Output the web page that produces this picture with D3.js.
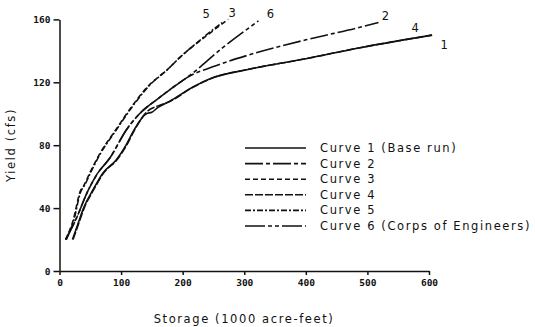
<!DOCTYPE html>
<html>
<head>
<meta charset="utf-8">
<script src="https://cdn.jsdelivr.net/npm/d3@7"></script>
<style>
  html, body { margin: 0; padding: 0; background: #fff; }
  svg text { fill: #111; }
  .tick text { font-family: "DejaVu Sans Mono", monospace; font-weight: bold; font-size: 9.5px; }
  .lbl { font-family: "DejaVu Sans", sans-serif; font-size: 11.5px; letter-spacing: 1.6px; }
  .num { font-family: "DejaVu Sans", sans-serif; font-size: 11.5px; }
</style>
</head>
<body>
<svg id="chart" width="535" height="327"></svg>
<script>
// Storage (1000 acre-feet) vs. yield (cfs) for each operating-rule curve
const curve1 = [[21,20],[30,30],[39,40],[55,52],[70,62],[93,71],[108,80],[120,89],[141,100],[150,101],[160,104],[179,108],[217,117],[250,123],[304,128],[400,135],[488,142],[605,150]];
const curve2 = [[10,20],[28,34],[45,50],[60,61],[82,72],[109,90],[130,100],[158,109],[185,117],[207,123],[250,130],[304,137],[400,147],[488,155],[518,158]];
const curve3 = [[10,20],[22,32],[34,51],[39,54],[50,63],[66,75],[90,89],[120,106],[145,118],[175,128],[196,136],[240,150],[274,160]];
const curve4 = [[22,20],[31,30],[40,40],[56,52],[71,62],[94,71],[109,80],[121,89],[141,101],[160,105],[180,108],[217,117],[250,123],[304,128],[400,135],[488,142],[605,150]];
const curve5 = [[11,20],[23,32],[35,51],[40,54],[51,63],[67,75],[91,89],[121,106],[146,118],[175,128],[196,136],[235,149],[264,158]];
const curve6 = [[10,20],[28,34],[45,50],[60,61],[82,72],[109,90],[130,100],[158,109],[185,117],[207,123],[265,142],[323,159]];

const seriesNames = ["Curve 1 (Base run)", "Curve 2", "Curve 3", "Curve 4", "Curve 5", "Curve 6 (Corps of Engineers)"];
const endLabels = ["1", "2", "3", "4", "5", "6"];
const xTicks = [0, 100, 200, 300, 400, 500, 600];
const yTicks = [0, 40, 80, 120, 160];

const series = [curve1, curve2, curve3, curve4, curve5, curve6];
const dashes = [null, "18,3,4,3", "5,3", "8,2", "6,2,2,2", "20,3,4,3,4,3"];
// offsets of the curve-number labels from each curve's end point
const labelOffsets = [[12,10],[7,-7],[4,-6],[-17,-7],[-16,-9],[12,-7]];

const svg = d3.select("#chart");
svg.append("rect").attr("width", 535).attr("height", 327).attr("fill", "#fff");

const x = d3.scaleLinear().domain([0, 600]).range([59.5, 429]);
const y = d3.scaleLinear().domain([0, 160]).range([271, 19.4]);

const xAxis = svg.append("g").attr("transform", `translate(0,${y(0)})`)
  .call(d3.axisBottom(x).tickValues(xTicks).tickSizeInner(4).tickSizeOuter(0).tickPadding(4));
const yAxis = svg.append("g").attr("transform", `translate(${x(0)},0)`)
  .call(d3.axisLeft(y).tickValues(yTicks).tickSizeInner(6).tickSizeOuter(0).tickPadding(3));
[xAxis, yAxis].forEach(g => {
  g.selectAll("path, line").attr("stroke", "#111").attr("stroke-width", 1.5);
});

const line = d3.line().x(d => x(d[0])).y(d => y(d[1])).curve(d3.curveMonotoneX);

series.forEach((s, i) => {
  svg.append("path").datum(s)
    .attr("d", line)
    .attr("fill", "none")
    .attr("stroke", "#111")
    .attr("stroke-width", 1.6)
    .attr("stroke-dasharray", dashes[i]);
  const last = s[s.length - 1];
  svg.append("text").attr("class", "num")
    .attr("x", x(last[0]) + labelOffsets[i][0])
    .attr("y", y(last[1]) + labelOffsets[i][1])
    .attr("text-anchor", "middle")
    .attr("dominant-baseline", "central")
    .text(endLabels[i]);
});

// legend
const legend = svg.append("g");
seriesNames.forEach((name, i) => {
  const ly = 148 + i * 15.6;
  legend.append("line")
    .attr("x1", 245).attr("x2", 306).attr("y1", ly).attr("y2", ly)
    .attr("stroke", "#111").attr("stroke-width", 1.6)
    .attr("stroke-dasharray", dashes[i]);
  legend.append("text").attr("class", "lbl")
    .attr("x", 320).attr("y", ly).attr("dominant-baseline", "central")
    .text(name);
});

// axis titles
svg.append("text").attr("class", "lbl")
  .attr("x", 244).attr("y", 323).attr("text-anchor", "middle")
  .text("Storage (1000 acre-feet)");
svg.append("text").attr("class", "lbl")
  .attr("transform", "translate(15,145) rotate(-90)")
  .attr("text-anchor", "middle")
  .text("Yield (cfs)");
</script>
</body>
</html>
